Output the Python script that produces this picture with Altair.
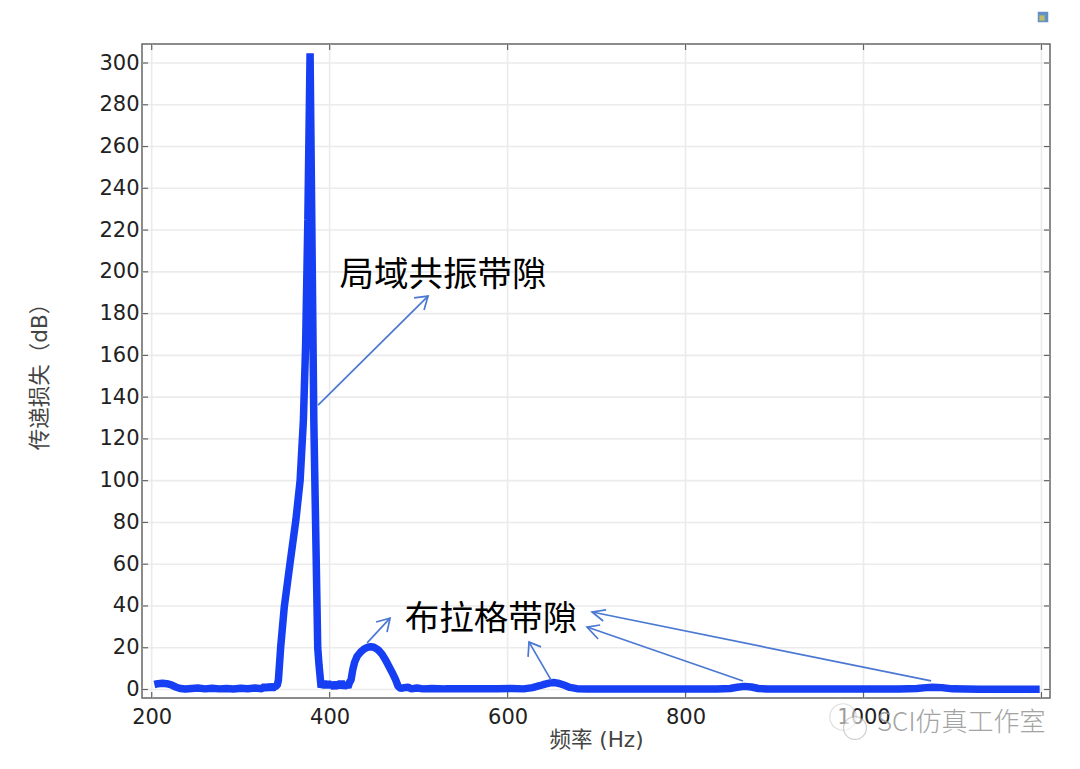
import altair as alt
import pandas as pd

freq = [203, 207, 212, 217, 222, 227, 232, 238, 245, 252, 260, 268, 276, 284, 292, 300, 308, 316, 324,
        327, 330, 333, 336, 339, 341, 342.4, 345, 349, 355.5, 362, 366.8, 370.5, 373, 375.5, 378, 382.2, 386.6, 388, 390.4,
        393, 395.5, 398, 400.5, 403, 405.5, 408, 410.5, 413, 415.5, 418, 420.5, 422.5,
        424, 426, 428, 431, 435, 439, 443, 446, 450, 455, 459, 463, 467, 471, 474, 477, 480, 484, 488, 492, 498, 505, 515,
        530, 550, 570, 590, 605, 618, 628, 636, 642, 648, 653, 658, 664, 670, 678, 690, 720, 760, 800, 835,
        850, 858, 866, 874, 882, 892, 920, 980, 1040, 1060, 1070, 1078, 1088, 1100, 1130, 1170, 1198]
loss = [2.4, 2.8, 3.0, 2.8, 2.2, 1.2, 0.5, 0.2, 0.5, 0.7, 0.3, 0.6, 0.3, 0.5, 0.2, 0.6, 0.4, 0.7, 0.4,
        1.6, 0.4, 1.8, 0.5, 1.6, 1.8, 4.5, 20.5, 39.5, 60.6, 81, 100, 129, 165, 225, 304.6, 129, 20, 12, 1,
        3.8, 1.0, 3.6, 1.2, 3.2, 0.6, 3.4, 1.0, 3.8, 0.8, 3.0, 1.0, 3.6,
        4.5, 9.5, 13, 16, 18, 19.5, 20.3, 20.5, 20.2, 18.8, 16.8, 14, 10.8, 7.5, 4.8, 1.5, 0.5, 0.9, 1.1, 0.3, 0.7, 0.3, 0.5,
        0.3, 0.4, 0.3, 0.4, 0.5, 0.3, 0.9, 1.8, 2.6, 3.2, 3.3, 2.9, 2.0, 1.0, 0.4, 0.2, 0.2, 0.2, 0.2, 0.2,
        0.5, 1.1, 1.5, 1.2, 0.5, 0.2, 0.2, 0.2, 0.2, 0.5, 0.9, 1.1, 0.9, 0.3, 0.1, 0.1, 0.1]

x_labels = [200, 400, 600, 800, 1000]
x_ticks = [200, 400, 600, 800, 1000, 1200]
y_ticks = list(range(0, 301, 20))

x_title = "频率 (Hz)"
y_title = "传递损失（dB）"

# Annotation arrows in data units: shaft start, tip, barb 1, barb 2
arrow_ids = ["A", "B", "C", "D", "E"]
arrow_start_x = [387.0, 442.1, 648.9, 864.6, 1076.0]
arrow_start_y = [136.2, 22.3, 4.5, 4.1, 4.1]
arrow_tip_x = [510.6, 467.9, 624.1, 689.3, 695.0]
arrow_tip_y = [188.4, 34.2, 22.7, 29.9, 37.1]
barb1_x = [494.9, 452.2, 623.0, 704.0, 710.7]
barb1_y = [187.5, 32.3, 15.6, 30.9, 38.1]
barb2_x = [506.1, 464.5, 637.6, 701.7, 707.4]
barb2_y = [181.7, 27.5, 20.4, 24.2, 32.8]

note_text = ["局域共振带隙", "布拉格带隙"]
note_x = [527.5, 581.4]
note_y = [198.2, 33.4]

watermark = "SCI仿真工作室"

W, H = 908, 654
FRAME = "#666666"
GRID = "#ebebeb"
BLUE = "#163ef2"
ARROW = "#4a78d2"
INK = "#222222"
CJK = "Noto Sans CJK SC"
MIXED = "DejaVu Sans, Noto Sans CJK SC"

x_scale = alt.Scale(domain=[189.1, 1209.6], nice=False, zero=False)
y_scale = alt.Scale(domain=[-4.07, 309.1], nice=False, zero=False)

x_axis = alt.Axis(
    values=x_labels, grid=False, domain=False, ticks=False, format="d",
    labelFont="DejaVu Sans", labelFontSize=21, labelColor=INK, labelPadding=8, labelFlush=False,
    title=x_title, titleFont=MIXED, titleFontSize=21.5, titleFontWeight="normal", titleColor="#444444",
    titleBaseline="middle", titleY=42)
y_axis = alt.Axis(
    values=y_ticks, grid=False, domain=False, ticks=False, format="d",
    labelFont="DejaVu Sans", labelFontSize=21, labelColor=INK, labelPadding=3,
    title=y_title, titleFont=MIXED, titleFontSize=21.5, titleFontWeight="normal", titleColor="#444444",
    titleBaseline="middle", titleX=-102)

X = alt.X("x:Q", scale=x_scale, axis=x_axis)
Y = alt.Y("y:Q", scale=y_scale, axis=y_axis)

xdf = pd.DataFrame({"x": x_ticks})
ydf = pd.DataFrame({"y": y_ticks})

grid_x = alt.Chart(xdf).mark_rule(color=GRID, strokeWidth=1.6).encode(x=X)
grid_y = alt.Chart(ydf).mark_rule(color=GRID, strokeWidth=1.6).encode(y=Y)


def xt(y0, y1):
    return alt.Chart(xdf).mark_rule(color=FRAME, strokeWidth=1.2).encode(x=X, y=alt.value(y0), y2=alt.value(y1))


def yt(x0, x1):
    return alt.Chart(ydf).mark_rule(color=FRAME, strokeWidth=1.2).encode(y=Y, x=alt.value(x0), x2=alt.value(x1))


ticks = [xt(H - 6, H), xt(0, 6), yt(0, 6), yt(W - 6, W)]

curve = alt.Chart(pd.DataFrame({"x": freq, "y": loss, "o": range(len(freq))})).mark_line(
    color=BLUE, strokeWidth=7.5, strokeJoin="bevel", strokeCap="butt"
).encode(x=X, y=Y, order="o:Q")

# Arrow shafts and heads
shaft_rows, head_rows = [], []
for i, a in enumerate(arrow_ids):
    shaft_rows += [{"id": a, "o": 0, "x": arrow_start_x[i], "y": arrow_start_y[i]},
                   {"id": a, "o": 1, "x": arrow_tip_x[i], "y": arrow_tip_y[i]}]
    head_rows += [{"id": a, "o": 0, "x": barb1_x[i], "y": barb1_y[i]},
                  {"id": a, "o": 1, "x": arrow_tip_x[i], "y": arrow_tip_y[i]},
                  {"id": a, "o": 2, "x": barb2_x[i], "y": barb2_y[i]}]

shafts = alt.Chart(pd.DataFrame(shaft_rows)).mark_line(color=ARROW, strokeWidth=1.7).encode(
    x=X, y=Y, detail="id:N", order="o:Q")
heads = alt.Chart(pd.DataFrame(head_rows)).mark_line(color=ARROW, strokeWidth=1.7).encode(
    x=X, y=Y, detail="id:N", order="o:Q")

notes = alt.Chart(pd.DataFrame({"x": note_x, "y": note_y, "t": note_text})).mark_text(
    font=CJK, fontSize=34.5, color="#000000", align="center", baseline="middle"
).encode(x=X, y=Y, text="t:N")

# Watermark
wm_b1 = alt.Chart(pd.DataFrame({"k": [0]})).mark_point(
    shape="circle", size=700, filled=True, fill="#ffffff", stroke="#c4c4c4", strokeWidth=1.2, opacity=0.55
).encode(x=alt.value(701), y=alt.value(673))
wm_b2 = alt.Chart(pd.DataFrame({"k": [0]})).mark_point(
    shape="circle", size=520, filled=True, fill="#ffffff", stroke="#a8a8a8", strokeWidth=1.2, opacity=0.55
).encode(x=alt.value(713), y=alt.value(684))
wm_text = alt.Chart(pd.DataFrame({"t": [watermark]})).mark_text(
    font=CJK, fontSize=26, color="#9a9a9a", align="left", baseline="middle", opacity=0.9, fontWeight=300
).encode(x=alt.value(735), y=alt.value(679), text="t:N")

# Small icon at the top right of the page
icon_a = alt.Chart(pd.DataFrame({"k": [0]})).mark_square(size=110, color="#1f63b0").encode(
    x=alt.value(901), y=alt.value(-27))
icon_b = alt.Chart(pd.DataFrame({"k": [0]})).mark_square(size=28, color="#e6cf3c").encode(
    x=alt.value(900), y=alt.value(-26))

chart = alt.layer(
    grid_x, grid_y, *ticks, curve, shafts, heads, notes, wm_b1, wm_b2, wm_text, icon_a, icon_b
).properties(
    width=W, height=H,
    autosize=alt.AutoSizeParams(type="none"),
    padding={"left": 134, "top": 36, "right": 22, "bottom": 60},
    background="#ffffff",
).configure_view(stroke=FRAME, strokeWidth=1.5)

chart.save("out.html", embed_options={"renderer": "svg", "actions": False})
